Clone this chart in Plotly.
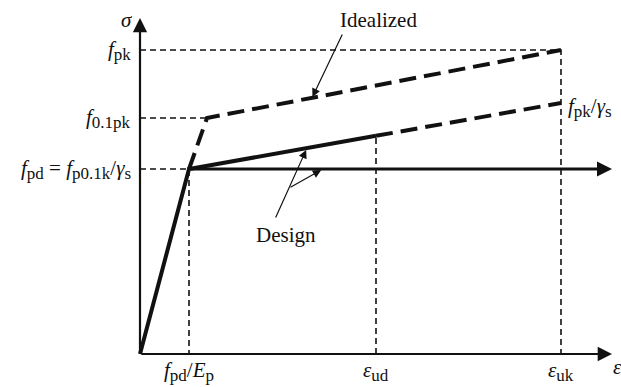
import plotly.graph_objects as go

# Characteristic strains (schematic units)
eps_pd = 49      # f_pd / E_p
eps_01 = 67      # strain at f_0.1pk on the idealized curve
eps_ud = 236     # design ultimate strain
eps_uk = 421     # characteristic ultimate strain
eps_axis = 472   # end of strain axis

# Characteristic stresses (schematic units)
f_pd = 185       # f_pd = f_p0.1k / gamma_s
f_01pk = 236     # f_0.1pk
f_pk = 304       # f_pk
f_pk_gs = 251    # f_pk / gamma_s
sig_axis = 336   # end of stress axis

SERIF = "Liberation Serif, Times New Roman, serif"
BLACK = "#111111"


def design_stress(eps):
    """Stress on the inclined design branch."""
    return f_pd + (f_pk_gs - f_pd) * (eps - eps_pd) / (eps_uk - eps_pd)


def ideal_stress(eps):
    """Stress on the inclined idealized branch."""
    return f_01pk + (f_pk - f_01pk) * (eps - eps_01) / (eps_uk - eps_01)


def sub(s):
    """Subscript set a little larger than the default."""
    return f'<sub><span style="font-size:17px">{s}</span></sub>'


fig = go.Figure()


def line(xs, ys, width, dash="solid"):
    fig.add_trace(go.Scatter(x=xs, y=ys, mode="lines", hoverinfo="skip",
                             line=dict(color=BLACK, width=width, dash=dash),
                             showlegend=False))


# Thin dashed guide lines
guide = "6px,4px"
line([0, eps_uk, eps_uk], [f_pk, f_pk, 0], 1.6, guide)
line([0, eps_01], [f_01pk, f_01pk], 1.6, guide)
line([0, eps_pd, eps_pd], [f_pd, f_pd, 0], 1.6, guide)
line([eps_ud, eps_ud], [0, design_stress(eps_ud)], 1.6, guide)

# Idealized curve (thick dashed)
line([eps_pd, eps_01, eps_uk], [f_pd, f_01pk, f_pk], 4, "17px,8px")

# Design curve with inclined branch
line([0, eps_pd, eps_ud], [0, f_pd, design_stress(eps_ud)], 4)
line([eps_ud, eps_uk], [design_stress(eps_ud), f_pk_gs], 4, "17px,8px")

annotations = []


def arrow(x_tip, y_tip, x_tail, y_tail, width, size, head=2, standoff=0):
    annotations.append(dict(x=x_tip, y=y_tip, ax=x_tail, ay=y_tail,
                            xref="x", yref="y", axref="x", ayref="y",
                            text="", showarrow=True, arrowhead=head,
                            arrowsize=size, arrowwidth=width,
                            arrowcolor=BLACK, standoff=standoff))


# Axes
arrow(0, sig_axis, 0, 0, 2.2, 1.3)
arrow(eps_axis, 0, 0, 0, 2.2, 1.3)
# Horizontal design branch
arrow(eps_axis, f_pd, eps_pd, f_pd, 3, 1.0)

# Pointer arrows
ideal_tip = 172
arrow(ideal_tip, ideal_stress(ideal_tip), 203, 321, 1.2, 1.4, standoff=1)
design_tip = 167
arrow(design_tip, design_stress(design_tip), 135, 135, 1.2, 1.4, standoff=2)
arrow(183, f_pd, 149, 166, 1.2, 1.4, standoff=2)


def label(x, y, text, xanchor="center", yanchor="middle", size=21):
    annotations.append(dict(x=x, y=y, xref="x", yref="y", text=text,
                            showarrow=False, xanchor=xanchor, yanchor=yanchor,
                            borderpad=0,
                            font=dict(family=SERIF, size=size, color=BLACK)))


label(-6, sig_axis - 2, "<i>σ</i>", xanchor="right")
label(-8, f_pk, "<i>f</i>" + sub("pk"), xanchor="right")
label(-8, f_01pk, "<i>f</i>" + sub("0.1pk"), xanchor="right")
label(-8, f_pd, "<i>f</i>" + sub("pd") + " = <i>f</i>" + sub("p0.1k")
      + "/<i>γ</i>" + sub("s"), xanchor="right")
label(eps_uk + 6, f_pk_gs - 4, "<i>f</i>" + sub("pk") + "/<i>γ</i>" + sub("s"),
      xanchor="left")
label(eps_pd, -32, "<i>f</i>" + sub("pd") + "/<i>E</i>" + sub("p"), yanchor="bottom")
label(eps_ud, -32, "<i>ε</i>" + sub("ud"), yanchor="bottom")
label(eps_uk, -32, "<i>ε</i>" + sub("uk"), yanchor="bottom")
label(eps_axis + 5, -13, "<i>ε</i>", xanchor="center")
label(238, 334, "Idealized")
label(146, 119, "Design")

fig.update_layout(
    width=621, height=387,
    margin=dict(l=0, r=0, t=0, b=0),
    paper_bgcolor="white", plot_bgcolor="white",
    xaxis=dict(range=[-140, 481], visible=False, fixedrange=True),
    yaxis=dict(range=[-33, 354], visible=False, fixedrange=True),
    annotations=annotations,
    showlegend=False,
)

fig.write_html("out.html")
